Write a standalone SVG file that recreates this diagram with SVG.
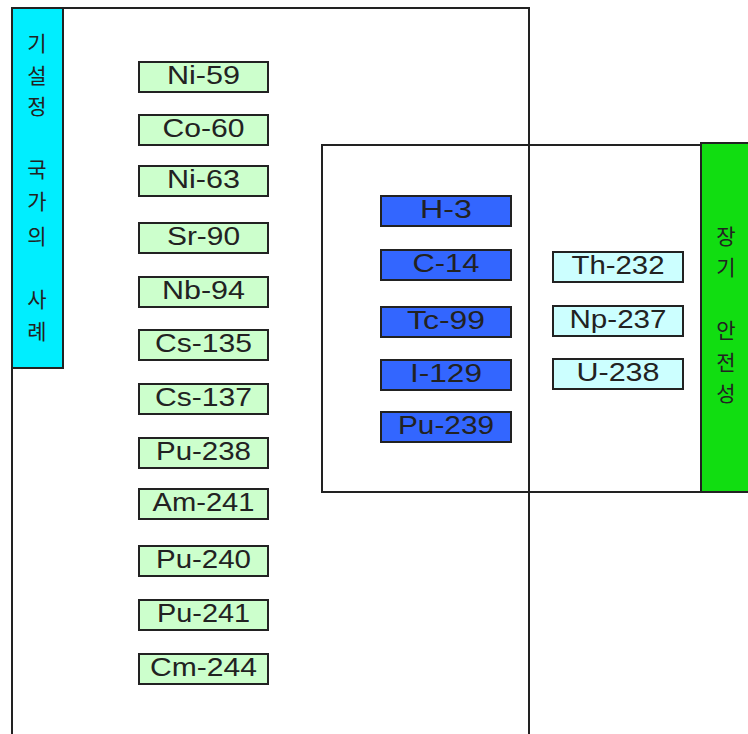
<svg xmlns="http://www.w3.org/2000/svg" width="748" height="734" viewBox="0 0 748 734">
<style>
.frame{fill:none;stroke:#222;stroke-width:2}
.box{stroke:#222;stroke-width:2}
.g{fill:#ccffcc}
.b{fill:#3366ff}
.c{fill:#ccffff}
.t{font-family:"Liberation Sans",Arial,sans-serif;font-size:25px;fill:#222;text-anchor:middle}
.k{font-family:"Noto Sans CJK KR",sans-serif;font-size:21px;fill:#222;text-anchor:middle}
</style>
<rect x="0" y="0" width="748" height="734" fill="#fff"/>
<g id="frames">
<rect class="frame" x="12" y="8" width="517" height="730"/>
<rect class="frame" x="322" y="145" width="380" height="347"/>
</g>
<g id="side-left">
<rect x="12" y="8" width="51" height="360" fill="#00eeff" stroke="#222" stroke-width="2"/>
<text class="k"><tspan x="37" y="51">기</tspan><tspan x="37" y="83">설</tspan><tspan x="37" y="114">정</tspan></text>
<text class="k"><tspan x="37" y="177">국</tspan><tspan x="37" y="209">가</tspan><tspan x="37" y="244">의</tspan></text>
<text class="k"><tspan x="37" y="307">사</tspan><tspan x="37" y="339">례</tspan></text>
</g>
<g id="side-right">
<rect x="701" y="143" width="50" height="349" fill="#11dd11" stroke="#222" stroke-width="2"/>
<text class="k"><tspan x="726" y="244">장</tspan><tspan x="726" y="275">기</tspan></text>
<text class="k"><tspan x="726" y="338">안</tspan><tspan x="726" y="370">전</tspan><tspan x="726" y="401">성</tspan></text>
</g>
<g id="Ni-59"><rect class="box g" x="139" y="62" width="129" height="30"/><text class="t" x="203.5" y="84" textLength="73" lengthAdjust="spacingAndGlyphs">Ni-59</text></g>
<g id="Co-60"><rect class="box g" x="139" y="115" width="129" height="30"/><text class="t" x="203.5" y="137" textLength="82" lengthAdjust="spacingAndGlyphs">Co-60</text></g>
<g id="Ni-63"><rect class="box g" x="139" y="166" width="129" height="30"/><text class="t" x="203.5" y="188" textLength="73" lengthAdjust="spacingAndGlyphs">Ni-63</text></g>
<g id="Sr-90"><rect class="box g" x="139" y="223" width="129" height="30"/><text class="t" x="203.5" y="245" textLength="73" lengthAdjust="spacingAndGlyphs">Sr-90</text></g>
<g id="Nb-94"><rect class="box g" x="139" y="277" width="129" height="30"/><text class="t" x="203.5" y="299" textLength="83" lengthAdjust="spacingAndGlyphs">Nb-94</text></g>
<g id="Cs-135"><rect class="box g" x="139" y="330" width="129" height="30"/><text class="t" x="203.5" y="352" textLength="97" lengthAdjust="spacingAndGlyphs">Cs-135</text></g>
<g id="Cs-137"><rect class="box g" x="139" y="384" width="129" height="30"/><text class="t" x="203.5" y="406" textLength="97" lengthAdjust="spacingAndGlyphs">Cs-137</text></g>
<g id="Pu-238"><rect class="box g" x="139" y="438" width="129" height="30"/><text class="t" x="203.5" y="460" textLength="95" lengthAdjust="spacingAndGlyphs">Pu-238</text></g>
<g id="Am-241"><rect class="box g" x="139" y="489" width="129" height="30"/><text class="t" x="203.5" y="511" textLength="102" lengthAdjust="spacingAndGlyphs">Am-241</text></g>
<g id="Pu-240"><rect class="box g" x="139" y="546" width="129" height="30"/><text class="t" x="203.5" y="568" textLength="95" lengthAdjust="spacingAndGlyphs">Pu-240</text></g>
<g id="Pu-241"><rect class="box g" x="139" y="600" width="129" height="30"/><text class="t" x="203.5" y="622" textLength="93" lengthAdjust="spacingAndGlyphs">Pu-241</text></g>
<g id="Cm-244"><rect class="box g" x="139" y="654" width="129" height="30"/><text class="t" x="203.5" y="676" textLength="107" lengthAdjust="spacingAndGlyphs">Cm-244</text></g>
<g id="H-3"><rect class="box b" x="381" y="196" width="130" height="30"/><text class="t" x="446" y="218" textLength="52" lengthAdjust="spacingAndGlyphs">H-3</text></g>
<g id="C-14"><rect class="box b" x="381" y="250" width="130" height="30"/><text class="t" x="446" y="272" textLength="67" lengthAdjust="spacingAndGlyphs">C-14</text></g>
<g id="Tc-99"><rect class="box b" x="381" y="307" width="130" height="30"/><text class="t" x="446" y="329" textLength="78" lengthAdjust="spacingAndGlyphs">Tc-99</text></g>
<g id="I-129"><rect class="box b" x="381" y="360" width="130" height="30"/><text class="t" x="446" y="382" textLength="72" lengthAdjust="spacingAndGlyphs">I-129</text></g>
<g id="Pu-239"><rect class="box b" x="381" y="412" width="130" height="30"/><text class="t" x="446" y="434" textLength="96" lengthAdjust="spacingAndGlyphs">Pu-239</text></g>
<g id="Th-232"><rect class="box c" x="553" y="252" width="130" height="30"/><text class="t" x="618" y="274" textLength="93" lengthAdjust="spacingAndGlyphs">Th-232</text></g>
<g id="Np-237"><rect class="box c" x="553" y="306" width="130" height="30"/><text class="t" x="618" y="328" textLength="97" lengthAdjust="spacingAndGlyphs">Np-237</text></g>
<g id="U-238"><rect class="box c" x="553" y="359" width="130" height="30"/><text class="t" x="618" y="381" textLength="83" lengthAdjust="spacingAndGlyphs">U-238</text></g>
<g id="connectors"></g>
</svg>
